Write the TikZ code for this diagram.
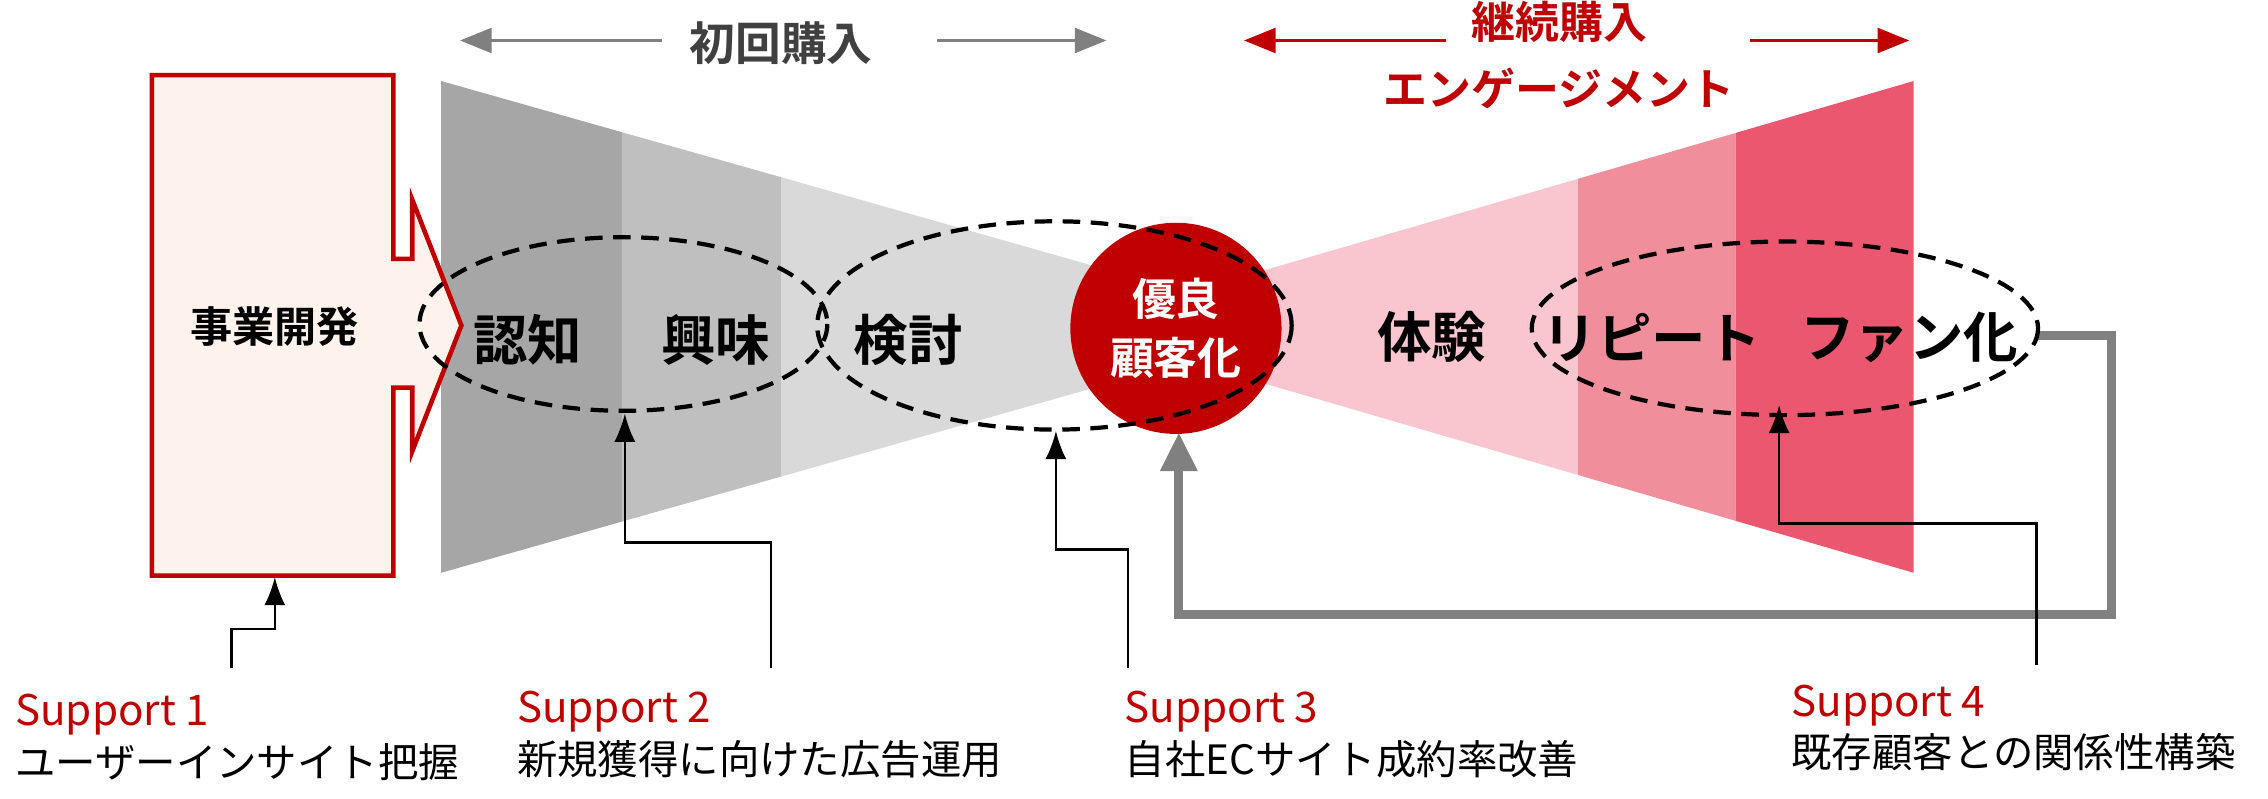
\documentclass[tikz,border=0pt]{standalone}
\usepackage{fontspec}
\setmainfont{Noto Sans CJK JP}
\newfontfamily\jpbold{Noto Sans CJK JP Bold}
\usetikzlibrary{arrows.meta}
\definecolor{boxred}{HTML}{C00000}
\definecolor{boxfill}{HTML}{FDF3EC}
\definecolor{grayA}{HTML}{A6A6A6}
\definecolor{grayB}{HTML}{BFBFBF}
\definecolor{grayC}{HTML}{D9D9D9}
\definecolor{pinkA}{HTML}{F9C6CF}
\definecolor{pinkB}{HTML}{F18E9C}
\definecolor{pinkC}{HTML}{EC5770}
\definecolor{loopgray}{HTML}{808080}

\begin{document}
\begin{tikzpicture}[x=0.014464cm, y=-0.014464cm,
    stage/.style={font=\jpbold\fontsize{15.5}{18}\selectfont, inner sep=1pt},
    head/.style={font=\jpbold\fontsize{13}{15}\selectfont},
    suptitle/.style={font=\fontsize{12}{14}\selectfont, text=boxred, anchor=west, inner sep=0pt},
    supnote/.style={font=\fontsize{11.5}{14}\selectfont, anchor=west, inner sep=0pt},
    ring/.style={draw=black, line width=1.2pt, dash pattern=on 5pt off 3pt},
    link/.style={draw=black, line width=0.7pt, -{Latex[length=8pt,width=6pt]}}]

  \useasboundingbox (0,0) rectangle (1568,552);

  % Left funnel (first purchase)
  \fill[grayA] (305,56) -- (430,91.4) -- (430,360.6) -- (305,396) -- cycle;
  \fill[grayB] (430,91.4) -- (540,122.5) -- (540,329.5) -- (430,360.6) -- cycle;
  \fill[grayC] (540,122.5) -- (813,200) -- (813,252) -- (540,329.5) -- cycle;

  % Right funnel (engagement)
  \fill[pinkA] (813,204.7) -- (1091,123.6) -- (1091,328.4) -- (813,247.3) -- cycle;
  \fill[pinkB] (1091,123.6) -- (1200,91.9) -- (1200,360.1) -- (1091,328.4) -- cycle;
  \fill[pinkC] (1200,91.9) -- (1323,56) -- (1323,396) -- (1200,360.1) -- cycle;

  % Business development arrow box
  \draw[boxred, fill=boxfill, line width=1.3pt]
    (105,52) -- (272,52) -- (272,179) -- (285,179) -- (285,138) -- (319,225)
    -- (285,312) -- (285,268) -- (272,268) -- (272,398) -- (105,398) -- cycle;
  \node[font=\jpbold\fontsize{12}{14}\selectfont] (dev) at (190,226) {事業開発};

  % Loyal customer circle
  \node[circle, fill=boxred, minimum size=146*0.014464cm, inner sep=0pt,
        align=center, text=white, font=\jpbold\fontsize{12.5}{17}\selectfont]
        (loyal) at (813,227) {優良\\顧客化};

  % Feedback loop
  \coordinate (loopA) at (1409,232);
  \coordinate (loopB) at (1460,232);
  \coordinate (loopC) at (1460,425);
  \coordinate (loopD) at (815,425);
  \coordinate (loopE) at (815,299);
  \draw[loopgray, line width=2.6pt, -{Triangle[length=11pt,width=10pt]}]
    (loopA) -- (loopB) -- (loopC) -- (loopD) -- (loopE);

  % Dashed groups
  \draw[ring] (431,224) ellipse (141 and 60);
  \draw[ring] (729,225) ellipse (164 and 72);
  \draw[ring] (1234,227) ellipse (175 and 60);

  % Stage labels
  \node[stage] (aware)  at (365,235) {認知};
  \node[stage] (inter)  at (495,235) {興味};
  \node[stage] (consid) at (628,235) {検討};
  \node[stage] (exper)  at (990,233) {体験};
  \node[stage] (repeat) at (1142,233) {リピート};
  \node[stage] (fan)    at (1320,233) {ファン化};

  % Headings
  \node[head, text=black!75] (first) at (540,30) {初回購入};
  \node[head, text=boxred, align=center, font=\jpbold\fontsize{12.5}{19}\selectfont]
    (cont) at (1078,38) {継続購入\\エンゲージメント};
  \coordinate (fL) at (318,28);  \coordinate (fR) at (765,28);
  \coordinate (fL0) at (458,28); \coordinate (fR0) at (648,28);
  \coordinate (cL) at (860,28);  \coordinate (cR) at (1320,28);
  \coordinate (cL0) at (1000,28); \coordinate (cR0) at (1210,28);
  \draw[loopgray, line width=1pt, -{Triangle[length=9pt,width=7pt]}] (fL0) -- (fL);
  \draw[loopgray, line width=1pt, -{Triangle[length=9pt,width=7pt]}] (fR0) -- (fR);
  \draw[boxred, line width=1pt, -{Triangle[length=9pt,width=7pt]}] (cL0) -- (cL);
  \draw[boxred, line width=1pt, -{Triangle[length=9pt,width=7pt]}] (cR0) -- (cR);

  % Support labels
  \node[suptitle] (s1) at (10,494) {Support 1};
  \node[supnote]  (n1) at (10,527) {ユーザーインサイト把握};
  \node[suptitle] (s2) at (357,492) {Support 2};
  \node[supnote]  (n2) at (357,525) {新規獲得に向けた広告運用};
  \node[suptitle] (s3) at (777,492) {Support 3};
  \node[supnote]  (n3) at (777,525) {自社ECサイト成約率改善};
  \node[suptitle] (s4) at (1238,488) {Support 4};
  \node[supnote]  (n4) at (1238,520) {既存顧客との関係性構築};

  % Support connectors
  \coordinate (b1) at (160,462);  \coordinate (t1) at (190,399);
  \coordinate (b2) at (533,462);  \coordinate (t2) at (432,286);
  \coordinate (b3) at (780,462);  \coordinate (t3) at (730,298);
  \coordinate (b4) at (1408,460); \coordinate (t4) at (1230,280);
  \draw[link] (b1) |- (175,435) -| (t1);
  \draw[link] (b2) |- (480,375) -| (t2);
  \draw[link] (b3) |- (750,380) -| (t3);
  \draw[link] (b4) |- (1300,362) -| (t4);

\end{tikzpicture}
\end{document}
